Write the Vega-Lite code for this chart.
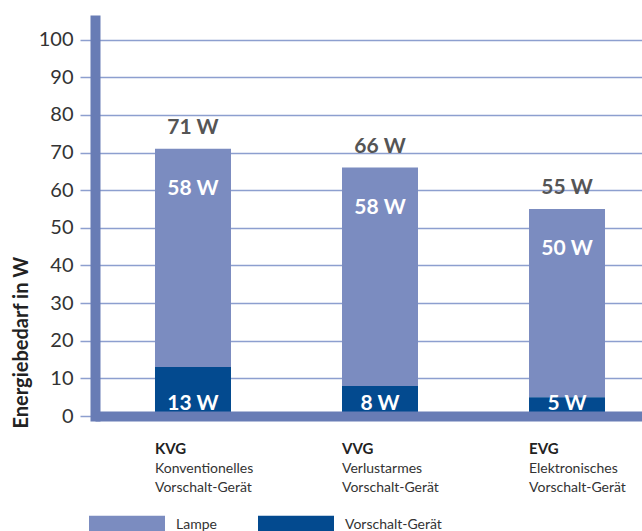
{
  "$schema": "https://vega.github.io/schema/vega-lite/v6.json",
  "width": 547,
  "height": 396,
  "autosize": {"type": "none"},
  "padding": {"left": 95, "top": 20, "right": 0, "bottom": 115},
  "background": "white",
  "config": {"view": {"stroke": null}, "font": "Lato"},
  "datasets": {
    "parts": [
      {"code": "KVG", "series": "Lampe", "value": 58, "total": 71, "label": "58 W"},
      {"code": "KVG", "series": "Vorschalt-Gerät", "value": 13, "total": 71, "label": "13 W"},
      {"code": "VVG", "series": "Lampe", "value": 58, "total": 66, "label": "58 W"},
      {"code": "VVG", "series": "Vorschalt-Gerät", "value": 8, "total": 66, "label": "8 W"},
      {"code": "EVG", "series": "Lampe", "value": 50, "total": 55, "label": "50 W"},
      {"code": "EVG", "series": "Vorschalt-Gerät", "value": 5, "total": 55, "label": "5 W"}
    ],
    "totals": [
      {"code": "KVG", "total": 71, "label": "71 W"},
      {"code": "VVG", "total": 66, "label": "66 W"},
      {"code": "EVG", "total": 55, "label": "55 W"}
    ]
  },
  "layer": [
    {
      "data": {"name": "parts"},
      "mark": {"type": "bar"},
      "encoding": {
        "x": {
          "field": "code", "type": "nominal", "sort": ["KVG", "VVG", "EVG"],
          "scale": {"paddingInner": 0.5936, "paddingOuter": 0.2593, "align": 0.6186},
          "axis": {
            "orient": "bottom", "title": null, "ticks": false, "grid": false,
            "domainColor": "#687cb5", "domainWidth": 10, "domainCap": "butt",
            "labelAngle": 0, "labelAlign": "left", "labelBaseline": "top", "labelOffset": -38,
            "labelPadding": 25, "labelFont": "Lato", "labelFontSize": 15, "labelFontWeight": "bold",
            "labelColor": "#222222", "zindex": 1, "labelOverlap": false
          }
        },
        "y": {
          "field": "value", "type": "quantitative", "stack": "zero",
          "scale": {"domain": [0, 105.2], "nice": false},
          "axis": {
            "orient": "left",
            "values": [0, 10, 20, 30, 40, 50, 60, 70, 80, 90, 100],
            "labelOverlap": false,
            "title": "Energiebedarf in W",
            "grid": true, "gridColor": "#8d9fcf", "gridWidth": 1.5,
            "tickColor": "#8d9fcf", "tickWidth": 1.5, "tickSize": 15,
            "domainColor": "#687cb5", "domainWidth": 10, "domainCap": "square",
            "labelFont": "Lato", "labelFontSize": 20, "labelColor": "#333333", "labelPadding": 7,
            "titleFont": "Lato", "titleFontSize": 20, "titleFontWeight": "bold", "titleColor": "#222222",
            "titleAnchor": "start", "titleAngle": -90, "titleAlign": "left", "titleBaseline": "alphabetic",
            "titleX": -68, "titleY": 408
          }
        },
        "color": {
          "field": "series", "type": "nominal",
          "scale": {"domain": ["Lampe", "Vorschalt-Gerät"], "range": ["#7b8cc0", "#034a8f"]},
          "legend": {
            "orient": "none", "legendX": -6, "legendY": 467, "direction": "horizontal", "title": null,
            "symbolType": "M-1,-0.25H1V0.25H-1Z", "symbolSize": 5776, "symbolStrokeWidth": 0, "symbolOpacity": 1,
            "labelFont": "Lato", "labelFontSize": 14, "labelColor": "#333333", "labelOffset": 11,
            "columnPadding": 41, "padding": 0
          }
        },
        "order": {"field": "series", "sort": "descending"}
      }
    },
    {
      "data": {"name": "totals"},
      "mark": {"type": "text", "font": "Lato", "fontSize": 21, "fontWeight": "bold", "color": "#555555", "dy": -15, "baseline": "alphabetic"},
      "encoding": {
        "x": {"field": "code", "type": "nominal", "sort": ["KVG", "VVG", "EVG"], "axis": null},
        "y": {"field": "total", "type": "quantitative", "axis": null},
        "text": {"field": "label"}
      }
    },
    {
      "data": {"name": "parts"},
      "transform": [{"filter": "datum.series == 'Lampe'"}],
      "mark": {"type": "text", "font": "Lato", "fontSize": 21, "fontWeight": "bold", "color": "white", "dy": 46, "baseline": "alphabetic"},
      "encoding": {
        "x": {"field": "code", "type": "nominal", "sort": ["KVG", "VVG", "EVG"], "axis": null},
        "y": {"field": "total", "type": "quantitative", "axis": null},
        "text": {"field": "label"}
      }
    },
    {
      "data": {"name": "parts"},
      "transform": [{"filter": "datum.series == 'Vorschalt-Gerät'"}],
      "mark": {"type": "text", "font": "Lato", "fontSize": 21, "fontWeight": "bold", "color": "white", "dy": -6, "baseline": "alphabetic"},
      "encoding": {
        "x": {"field": "code", "type": "nominal", "sort": ["KVG", "VVG", "EVG"], "axis": null},
        "y": {"datum": 0, "type": "quantitative", "axis": null},
        "text": {"field": "label"}
      }
    },
    {
      "data": {"name": "totals"},
      "mark": {"type": "text", "text": "", "opacity": 0},
      "encoding": {
        "x": {
          "field": "code", "type": "nominal", "sort": ["KVG", "VVG", "EVG"],
          "axis": {
            "orient": "bottom", "title": null, "ticks": false, "domain": false, "grid": false,
            "labelAngle": 0, "labelAlign": "left", "labelBaseline": "top", "labelOffset": -38,
            "labelPadding": 45, "labelFont": "Lato", "labelFontSize": 14, "labelColor": "#333333",
            "labelLineHeight": 19, "labelOverlap": false,
            "labelExpr": "datum.value == 'KVG' ? ['Konventionelles', 'Vorschalt-Gerät'] : datum.value == 'VVG' ? ['Verlustarmes', 'Vorschalt-Gerät'] : ['Elektronisches', 'Vorschalt-Gerät']"
          }
        },
        "y": {"field": "total", "type": "quantitative", "axis": null}
      }
    }
  ],
  "resolve": {"axis": {"x": "independent", "y": "independent"}}
}
